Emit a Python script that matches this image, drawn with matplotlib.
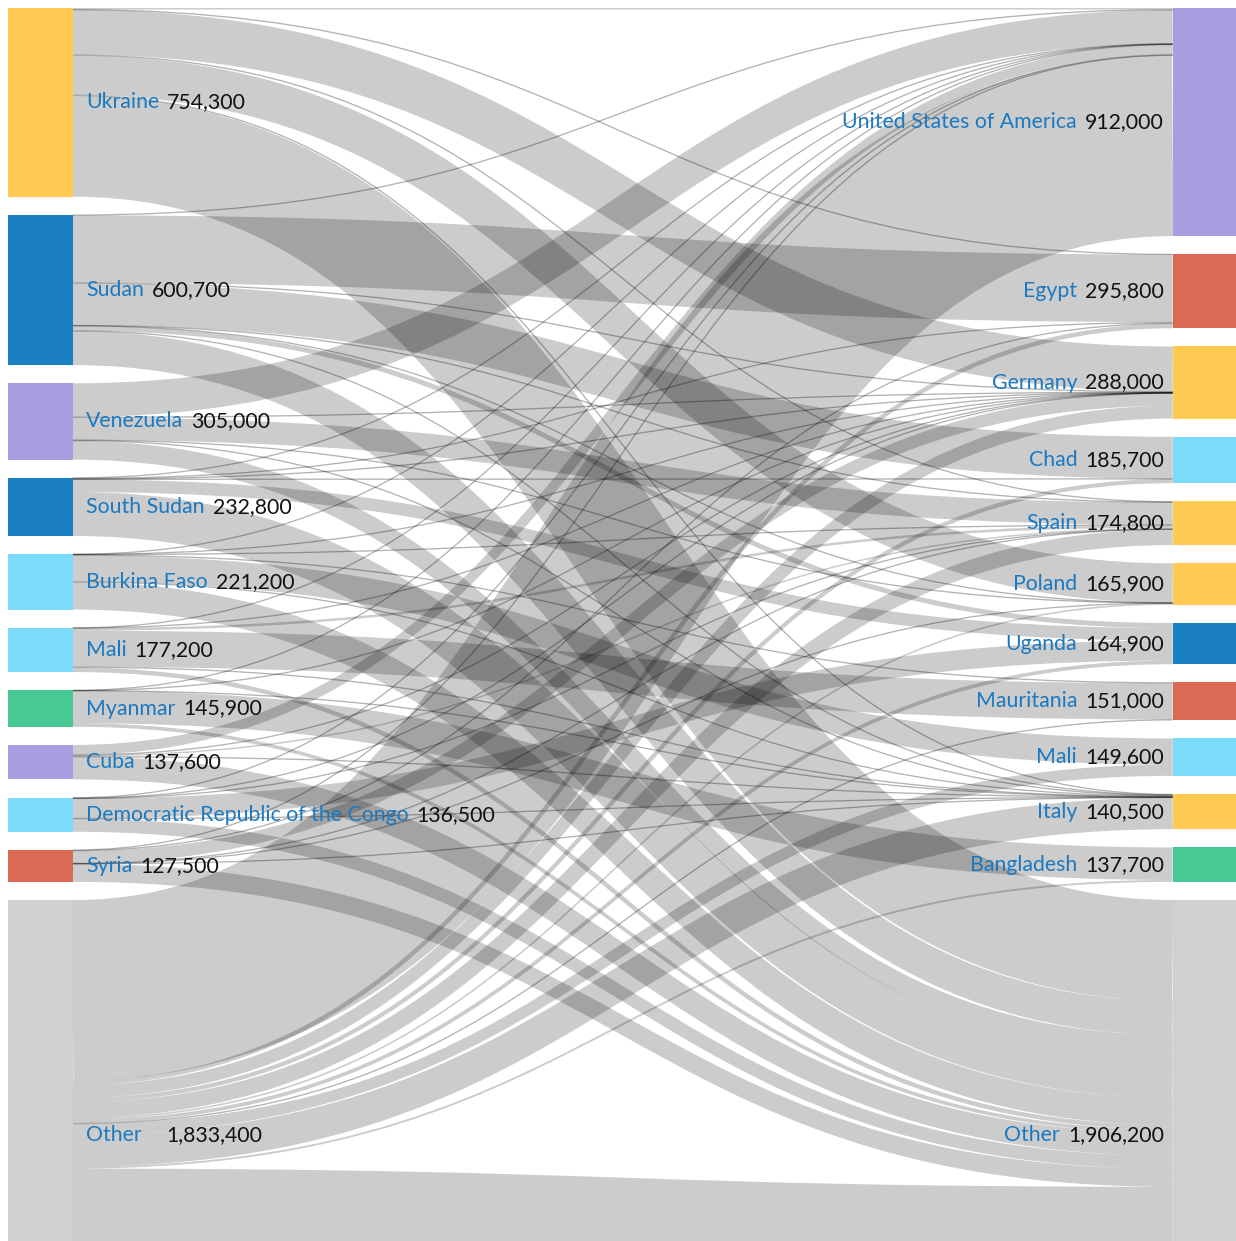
import matplotlib
matplotlib.use("Agg")
import matplotlib.pyplot as plt
from matplotlib.path import Path
from matplotlib.patches import PathPatch, Rectangle

# ---------------- data ----------------
origins = ["Ukraine", "Sudan", "Venezuela", "South Sudan", "Burkina Faso", "Mali",
           "Myanmar", "Cuba", "Democratic Republic of the Congo", "Syria", "Other"]
origin_values = [754300, 600700, 305000, 232800, 221200, 177200,
                 145900, 137600, 136500, 127500, 1833400]
origin_labels = ["754,300", "600,700", "305,000", "232,800", "221,200", "177,200",
                 "145,900", "137,600", "136,500", "127,500", "1,833,400"]

destinations = ["United States of America", "Egypt", "Germany", "Chad", "Spain", "Poland",
                "Uganda", "Mauritania", "Mali", "Italy", "Bangladesh", "Other"]
destination_values = [912000, 295800, 288000, 185700, 174800, 165900,
                      164900, 151000, 149600, 140500, 137700, 1906200]
destination_labels = ["912,000", "295,800", "288,000", "185,700", "174,800", "165,900",
                      "164,900", "151,000", "149,600", "140,500", "137,700", "1,906,200"]

YEL, BLU, PUR, CYA, GRN, RED, GRY = "#ffca52", "#1a7fc3", "#a89fe3", "#7adcfa", "#47c894", "#db6a55", "#d0d0d0"
origin_colors = [YEL, BLU, PUR, BLU, CYA, CYA, GRN, PUR, CYA, RED, GRY]
destination_colors = [PUR, RED, YEL, CYA, YEL, YEL, BLU, RED, CYA, YEL, GRN, GRY]

# links (values in persons): source name, target name, value
link_source = (["Ukraine"] * 7 + ["Sudan"] * 9 + ["Venezuela"] * 6 + ["South Sudan"] * 6 +
               ["Burkina Faso"] * 7 + ["Mali"] * 6 + ["Myanmar"] * 5 + ["Cuba"] * 5 +
               ["Democratic Republic of the Congo"] * 6 + ["Syria"] * 7 + ["Other"] * 12)
link_target = [
    # Ukraine
    "United States of America", "Egypt", "Germany", "Spain", "Poland", "Italy", "Other",
    # Sudan
    "United States of America", "Egypt", "Germany", "Chad", "Spain", "Poland", "Uganda", "Italy", "Other",
    # Venezuela
    "United States of America", "Germany", "Spain", "Poland", "Italy", "Other",
    # South Sudan
    "United States of America", "Egypt", "Germany", "Chad", "Uganda", "Other",
    # Burkina Faso
    "United States of America", "Germany", "Spain", "Mauritania", "Mali", "Italy", "Other",
    # Mali
    "United States of America", "Germany", "Spain", "Mauritania", "Italy", "Other",
    # Myanmar
    "United States of America", "Germany", "Italy", "Bangladesh", "Other",
    # Cuba
    "United States of America", "Germany", "Spain", "Italy", "Other",
    # DRC
    "United States of America", "Germany", "Spain", "Uganda", "Italy", "Other",
    # Syria
    "United States of America", "Egypt", "Germany", "Spain", "Poland", "Italy", "Other",
    # Other
    "United States of America", "Egypt", "Germany", "Chad", "Spain", "Poland", "Uganda",
    "Mauritania", "Mali", "Italy", "Bangladesh", "Other",
]
link_value = [
    6000, 1000, 180000, 3000, 158000, 3000, 403300,
    2000, 270000, 2000, 168000, 1000, 500, 20000, 1000, 136200,
    135000, 2000, 90000, 500, 3000, 74500,
    1000, 4000, 500, 1000, 50000, 176300,
    500, 500, 1000, 3000, 105000, 2000, 109200,
    1000, 500, 10000, 145000, 3000, 17700,
    1000, 300, 100, 130000, 14500,
    40000, 300, 6000, 600, 90700,
    2000, 1000, 500, 80000, 500, 52500,
    1000, 3000, 50000, 500, 300, 1000, 71700,
    722500, 17800, 50900, 16700, 62800, 6600, 14900, 3000, 44600, 126300, 7700, 758600,
]

# ---------------- layout ----------------
W, H, DPI = 1236, 1241, 100
KY = 0.0002501          # px per person
PAD = 18.21
TOP = 8
LX0, LX1 = 8, 72.7
RX0, RX1 = 1172.7, 1236

def stack(values):
    ys, y = [], TOP
    for v in values:
        ys.append(y)
        y += v * KY + PAD
    return ys

oy = stack(origin_values)
dy = stack(destination_values)

fig = plt.figure(figsize=(W / DPI, H / DPI), dpi=DPI)
ax = fig.add_axes([0, 0, 1, 1])
ax.set_xlim(0, W)
ax.set_ylim(H, 0)
ax.axis("off")

# link offsets (sorted like d3-sankey)
links = list(zip(link_source, link_target, link_value))
src_off = {o: 0.0 for o in origins}
tgt_off = {d: 0.0 for d in destinations}
src_y = {}
for o in origins:
    outs = sorted([l for l in links if l[0] == o], key=lambda l: destinations.index(l[1]))
    for l in outs:
        w = l[2] * KY
        src_y[(l[0], l[1])] = oy[origins.index(o)] + src_off[o] + w / 2
        src_off[o] += w
tgt_y = {}
for d in destinations:
    ins = sorted([l for l in links if l[1] == d], key=lambda l: origins.index(l[0]))
    for l in ins:
        w = l[2] * KY
        tgt_y[(l[0], l[1])] = dy[destinations.index(d)] + tgt_off[d] + w / 2
        tgt_off[d] += w

xm = (LX1 + RX0) / 2
for s, t, v in links:
    w = v * KY
    y0 = src_y[(s, t)]
    y1 = tgt_y[(s, t)]
    path = Path([(LX1, y0), (xm, y0), (xm, y1), (RX0, y1)],
                [Path.MOVETO, Path.CURVE4, Path.CURVE4, Path.CURVE4])
    if w >= 1.5:
        alpha, lw_px = 0.2, w
    else:
        alpha, lw_px = 0.3, 1.3
    ax.add_patch(PathPatch(path, fill=False, edgecolor=(0, 0, 0, alpha),
                           lw=lw_px * 72 / DPI, capstyle="butt", zorder=1))

for i, o in enumerate(origins):
    ax.add_patch(Rectangle((LX0, oy[i]), LX1 - LX0, origin_values[i] * KY,
                           facecolor=origin_colors[i], edgecolor="none", zorder=2))
for i, d in enumerate(destinations):
    ax.add_patch(Rectangle((RX0, dy[i]), RX1 - RX0, destination_values[i] * KY,
                           facecolor=destination_colors[i], edgecolor="none", zorder=2))

# ---------------- labels ----------------
FONT = ["Lato", "DejaVu Sans"]
FS = 15.3
NAME_C = "#1a79c1"
VAL_C = "#111111"
fig.canvas.draw()
r = fig.canvas.get_renderer()

for i, o in enumerate(origins):
    yb = oy[i] + origin_values[i] * KY / 2 + 6
    if o == "Other":
        yb = 1141
    t = ax.text(86, yb, o, color=NAME_C, fontsize=FS, family=FONT,
                ha="left", va="baseline", zorder=3)
    bb = t.get_window_extent(r)
    gap = 25 if o == "Other" else 8
    ax.text(bb.x1 + gap, yb, origin_labels[i], color=VAL_C, fontsize=FS,
            family=FONT, ha="left", va="baseline", zorder=3)

for i, d in enumerate(destinations):
    yb = dy[i] + destination_values[i] * KY / 2 + 6
    if d == "Other":
        yb = 1141
    v = ax.text(1164, yb, destination_labels[i], color=VAL_C, fontsize=FS,
                family=FONT, ha="right", va="baseline", zorder=3)
    bb = v.get_window_extent(r)
    xr = min(1078, bb.x0 - 8)
    ax.text(xr, yb, d, color=NAME_C, fontsize=FS, family=FONT,
            ha="right", va="baseline", zorder=3)

fig.savefig("out.png", dpi=DPI)
